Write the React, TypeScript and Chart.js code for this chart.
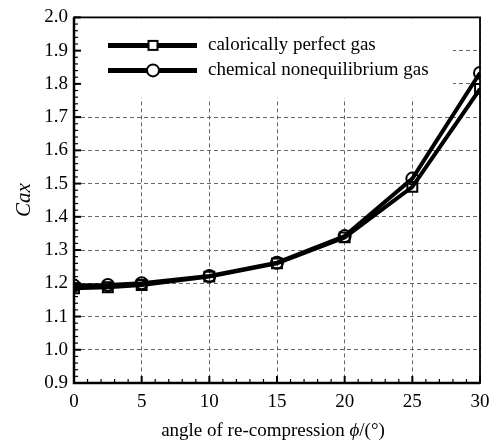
import React, { useEffect, useRef } from "react";
import { Chart, registerables } from "chart.js";

Chart.register(...registerables);

const angles = [0, 2.5, 5, 10, 15, 20, 25, 30];
const caloricallyPerfect = [1.185, 1.188, 1.195, 1.22, 1.26, 1.338, 1.49, 1.785];
const chemicalNoneq = [1.193, 1.195, 1.2, 1.222, 1.262, 1.342, 1.515, 1.833];
const seriesNames = ["calorically perfect gas", "chemical nonequilibrium gas"];
const xMin = 0;
const xMax = 30;
const xStep = 5;
const yMin = 0.9;
const yMax = 2.0;
const yStep = 0.1;
const yTitle = "Cax";
const xTitleParts = ["angle of re-compression ", "ϕ", "/(°)"];

const SERIF = "'Liberation Serif', 'Times New Roman', serif";

const framePlugin = {
  id: "frame",
  beforeDatasetsDraw(chart: any) {
    const { ctx, chartArea: a } = chart;
    ctx.save();
    ctx.fillStyle = "#ffffff";
    ctx.fillRect(a.left + 1, a.top + 1, 452 - a.left, 97 - a.top);
    ctx.restore();
  },
  afterDatasetsDraw(chart: any) {
    const { ctx, chartArea: a, scales } = chart;
    const xs = scales.x;
    const ys = scales.y;
    ctx.save();
    ctx.strokeStyle = "#000";
    ctx.lineWidth = 1.8;
    ctx.strokeRect(a.left, a.top, a.right - a.left, a.bottom - a.top);
    ctx.lineWidth = 2.5;
    ctx.beginPath();
    ctx.moveTo(a.left, a.top);
    ctx.lineTo(a.left, a.bottom);
    ctx.lineTo(a.right, a.bottom);
    ctx.stroke();
    for (let v = xMin; v <= xMax + 1e-9; v += 1) {
      const major = Math.abs(v % xStep) < 1e-9;
      const px = xs.getPixelForValue(v);
      ctx.lineWidth = major ? 2 : 1.2;
      ctx.beginPath();
      ctx.moveTo(px, a.bottom);
      ctx.lineTo(px, a.bottom - (major ? 7 : 4));
      ctx.stroke();
    }
    const nMinor = Math.round((yMax - yMin) / 0.02);
    for (let i = 0; i <= nMinor; i++) {
      const v = yMin + i * 0.02;
      const major = i % 5 === 0;
      const py = ys.getPixelForValue(v);
      ctx.lineWidth = major ? 2 : 1.2;
      ctx.beginPath();
      ctx.moveTo(a.left, py);
      ctx.lineTo(a.left + (major ? 7 : 4), py);
      ctx.stroke();
    }
    const rows = [a.top + 28, a.top + 53];
    const lx1 = a.left + 34;
    const lx2 = a.left + 123;
    const mx = a.left + 79;
    rows.forEach((y, i) => {
      ctx.strokeStyle = "#000";
      ctx.lineWidth = 5;
      ctx.beginPath();
      ctx.moveTo(lx1, y);
      ctx.lineTo(lx2, y);
      ctx.stroke();
      ctx.lineWidth = 2;
      ctx.fillStyle = "#fff";
      if (i === 0) {
        ctx.fillRect(mx - 4.5, y - 4.5, 9, 9);
        ctx.strokeRect(mx - 4.5, y - 4.5, 9, 9);
      } else {
        ctx.beginPath();
        ctx.arc(mx, y, 6, 0, Math.PI * 2);
        ctx.fill();
        ctx.stroke();
      }
      ctx.fillStyle = "#000";
      ctx.font = `19px ${SERIF}`;
      ctx.textAlign = "left";
      ctx.textBaseline = "middle";
      ctx.fillText(seriesNames[i], a.left + 134, y);
    });
    ctx.restore();
  },
  afterDraw(chart: any) {
    const { ctx, chartArea: a } = chart;
    ctx.save();
    ctx.fillStyle = "#000";
    ctx.translate(24, (a.top + a.bottom) / 2);
    ctx.rotate(-Math.PI / 2);
    ctx.font = `italic 21px ${SERIF}`;
    ctx.textAlign = "center";
    ctx.textBaseline = "middle";
    ctx.fillText(yTitle, 0, 0);
    ctx.restore();
    ctx.save();
    ctx.fillStyle = "#000";
    ctx.textBaseline = "middle";
    ctx.textAlign = "left";
    const fonts = [`19px ${SERIF}`, `italic 19px ${SERIF}`, `19px ${SERIF}`];
    let total = 0;
    const widths = xTitleParts.map((t, i) => {
      ctx.font = fonts[i];
      const w = ctx.measureText(t).width;
      total += w;
      return w;
    });
    let x = 273 - total / 2;
    xTitleParts.forEach((t, i) => {
      ctx.font = fonts[i];
      ctx.fillText(t, x, 431);
      x += widths[i];
    });
    ctx.restore();
  },
};

export default function App() {
  const ref = useRef<HTMLCanvasElement | null>(null);
  useEffect(() => {
    if (!ref.current) return;
    const mk = (data: number[]) => angles.map((x, i) => ({ x, y: data[i] }));
    const chart = new Chart(ref.current, {
      type: "line",
      data: {
        datasets: [
          {
            label: seriesNames[0],
            data: mk(caloricallyPerfect),
            borderColor: "#000",
            borderWidth: 4,
            pointStyle: "rect",
            pointRadius: 7,
            pointBorderWidth: 2,
            pointBackgroundColor: "rgba(0,0,0,0)",
            pointBorderColor: "#000",
            tension: 0,
          },
          {
            label: seriesNames[1],
            data: mk(chemicalNoneq),
            borderColor: "#000",
            borderWidth: 4,
            pointStyle: "circle",
            pointRadius: 6,
            pointBorderWidth: 2,
            pointBackgroundColor: "rgba(0,0,0,0)",
            pointBorderColor: "#000",
            tension: 0,
          },
        ],
      },
      options: {
        animation: false,
        responsive: false,
        layout: { padding: { top: 15, right: 18, left: 0, bottom: 0 } },
        plugins: { legend: { display: false }, tooltip: { enabled: false } },
        scales: {
          x: {
            type: "linear",
            min: xMin,
            max: xMax,
            afterFit: (s: any) => {
              s.height = 62;
            },
            ticks: {
              stepSize: xStep,
              color: "#000",
              font: { family: SERIF, size: 19 },
              padding: 8,
              maxRotation: 0,
            },
            grid: { color: "#666", lineWidth: 1, drawTicks: false },
            border: { display: false, dash: [4, 3] },
          },
          y: {
            type: "linear",
            min: yMin,
            max: yMax,
            afterFit: (s: any) => {
              s.width = 74;
            },
            ticks: {
              stepSize: yStep,
              color: "#000",
              font: { family: SERIF, size: 19 },
              padding: 6,
              callback: (v: any) => Number(v).toFixed(1),
            },
            grid: { color: "#666", lineWidth: 1, drawTicks: false },
            border: { display: false, dash: [4, 3] },
          },
        },
      },
      plugins: [framePlugin],
    });
    return () => chart.destroy();
  }, []);
  return (
    <div style={{ position: "absolute", left: 0, top: 0, width: 498, height: 445, background: "#fff" }}>
      <canvas ref={ref} width={498} height={445} />
    </div>
  );
}
